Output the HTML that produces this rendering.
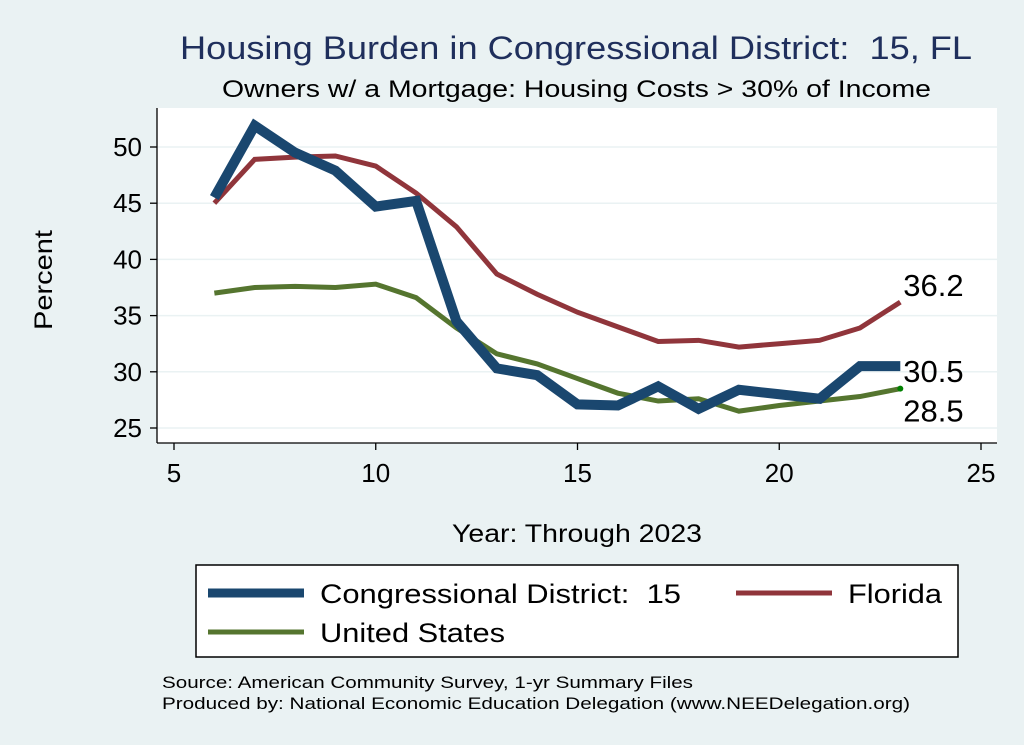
<!DOCTYPE html>
<html><head><meta charset="utf-8"><style>
body{margin:0;background:#EAF2F3;}
svg{display:block;font-family:"Liberation Sans",Arial,sans-serif;}
text{white-space:pre;}
</style></head><body>
<svg width="1024" height="745">
<rect x="0" y="0" width="1024" height="745" fill="#EAF2F3"/>
<text x="180" y="59" font-size="32" fill="#1F2F5C" textLength="792" lengthAdjust="spacingAndGlyphs">Housing Burden in Congressional District:  15, FL</text>
<text x="222" y="97" font-size="24" fill="#000" textLength="709" lengthAdjust="spacingAndGlyphs">Owners w/ a Mortgage: Housing Costs &gt; 30% of Income</text>
<rect x="157" y="108" width="840" height="335" fill="#fff"/>
<g id="grid"></g><g id="axes"></g><g id="series"></g>
<text x="52" y="280" font-size="25" text-anchor="middle" transform="rotate(-90 52 280)" textLength="100" lengthAdjust="spacingAndGlyphs">Percent</text>
<text x="452" y="542" font-size="25" textLength="250" lengthAdjust="spacingAndGlyphs">Year: Through 2023</text>
<g>
<rect x="196" y="565" width="762" height="92" fill="#fff" stroke="#000" stroke-width="1.5"/>
<line x1="208" y1="593" x2="304" y2="593" stroke="#1A476F" stroke-width="9"/>
<text x="320" y="603" font-size="27" textLength="361" lengthAdjust="spacingAndGlyphs">Congressional District:  15</text>
<line x1="736" y1="593" x2="832" y2="593" stroke="#90353B" stroke-width="5"/>
<text x="848" y="603" font-size="27" textLength="94" lengthAdjust="spacingAndGlyphs">Florida</text>
<line x1="208" y1="632" x2="304" y2="632" stroke="#55752F" stroke-width="5"/>
<text x="320" y="642" font-size="27" textLength="185" lengthAdjust="spacingAndGlyphs">United States</text>
</g>
<text x="162" y="688" font-size="17" textLength="531" lengthAdjust="spacingAndGlyphs">Source: American Community Survey, 1-yr Summary Files</text>
<text x="162" y="709" font-size="17" textLength="748" lengthAdjust="spacingAndGlyphs">Produced by: National Economic Education Delegation (www.NEEDelegation.org)</text>
</svg>
<script>
const years=[6,7,8,9,10,11,12,13,14,15,16,17,18,19,20,21,22,23];
const district=[45.5,51.9,49.5,47.9,44.7,45.2,34.5,30.3,29.7,27.1,27.0,28.7,26.7,28.4,28.0,27.6,30.5,30.5];
const florida=[45.0,48.9,49.1,49.2,48.3,45.9,42.9,38.7,36.9,35.3,34.0,32.7,32.8,32.2,32.5,32.8,33.9,36.2];
const us=[37.0,37.5,37.6,37.5,37.8,36.6,33.9,31.6,30.7,29.4,28.1,27.4,27.6,26.5,27.0,27.4,27.8,28.5];
const xTicks=[5,10,15,20,25];
const yTicks=[25,30,35,40,45,50];
const NS="http://www.w3.org/2000/svg";
const X=v=>174+(v-5)*(981-174)/20;
const Y=v=>428-(v-25)*(428-147)/25;
function mk(tag,attrs,parent){const e=document.createElementNS(NS,tag);for(const k in attrs)e.setAttribute(k,attrs[k]);parent.appendChild(e);return e;}
const grid=document.getElementById('grid'),axes=document.getElementById('axes'),ser=document.getElementById('series');
yTicks.forEach(t=>{
 const g=mk('line',{x1:157,x2:997,y1:Y(t),y2:Y(t),stroke:'#EAF2F3','stroke-width':1.5},grid);
 
 
 const k=mk('line',{x1:150,x2:157,y1:Y(t),y2:Y(t),stroke:'#000','stroke-width':1.3},axes);
 
 
 const l=mk('text',{x:142,y:Y(t)+9,'font-size':26,'text-anchor':'end'},axes);l.textContent=t;
 
 
});
xTicks.forEach(t=>{
 const k=mk('line',{x1:X(t),x2:X(t),y1:443,y2:450,stroke:'#000','stroke-width':1.3},axes);
 
 
 const l=mk('text',{x:X(t),y:482,'font-size':26,'text-anchor':'middle'},axes);l.textContent=t;
 
 
});
const ya=mk('line',{x1:157,x2:157,y1:108,y2:443,stroke:'#000','stroke-width':1.3},axes);


const xa=mk('line',{x1:157,x2:997,y1:443,y2:443,stroke:'#000','stroke-width':1.3},axes);


function line(vals,color,w,name){
 const p=mk('polyline',{points:vals.map((v,i)=>X(years[i])+','+Y(v)).join(' '),fill:'none',stroke:color,'stroke-width':w,'stroke-linejoin':'miter'},ser);
 
 
}
line(us,'#55752F',5,'line-united-states');
line(florida,'#90353B',5,'line-florida');
line(district,'#1A476F',10,'line-district');
const d=mk('circle',{cx:X(23),cy:Y(us[us.length-1]),r:3,fill:'#008000'},ser);


function lab(val,dy,name){const t=mk('text',{x:X(23)+3,y:Y(val)+dy,'font-size':31},ser);t.textContent=val.toFixed(1);
 
 }
lab(florida[florida.length-1],-6,'label-florida-end');
lab(district[district.length-1],16,'label-district-end');
lab(us[us.length-1],33,'label-us-end');
</script>
</body></html>
